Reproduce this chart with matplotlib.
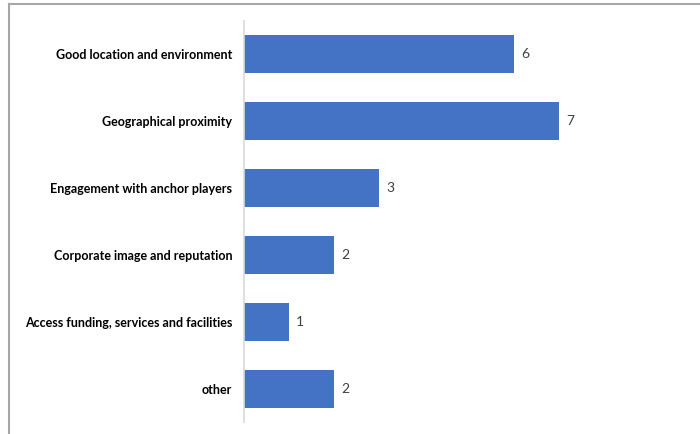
import matplotlib.pyplot as plt
from matplotlib.lines import Line2D

categories = ['Good location and environment', 'Geographical proximity',
              'Engagement with anchor players', 'Corporate image and reputation',
              'Access funding, services and facilities', 'other']
counts = [6, 7, 3, 2, 1, 2]

bar_color = '#4472C4'

fig = plt.figure(figsize=(7, 4.34), dpi=100)
ax = fig.add_axes([244 / 700, 12 / 434, 405 / 700, 401 / 434])

pos = list(range(len(categories)))
ax.barh(pos, counts, height=0.57, color=bar_color)
ax.set_ylim(len(categories) - 0.5, -0.5)
ax.set_xlim(0, 9)

ax.set_yticks(pos)
ax.set_yticklabels(categories, fontfamily='Lato', fontweight='bold', fontsize=9, color='black')
ax.tick_params(axis='y', length=0, pad=8.5)
ax.set_xticks([])

for s in ['top', 'right', 'bottom']:
    ax.spines[s].set_visible(False)
ax.spines['left'].set_color('#D9D9D9')
ax.spines['left'].set_linewidth(1.2)

# value labels next to each bar
for y, v in zip(pos, counts):
    ax.annotate(str(v), (v, y), xytext=(5, 0), textcoords='offset points',
                va='center', ha='left', fontsize=10, fontfamily='Lato', color='#404040')

# chart frame (only top and left edges are visible)
fig.add_artist(Line2D([9 / 700, 1], [1 - 4 / 434, 1 - 4 / 434], color='#A6A6A6', lw=1.5))
fig.add_artist(Line2D([9 / 700, 9 / 700], [0, 1 - 4 / 434], color='#A6A6A6', lw=1.5))

fig.savefig('out.png', dpi=100)
